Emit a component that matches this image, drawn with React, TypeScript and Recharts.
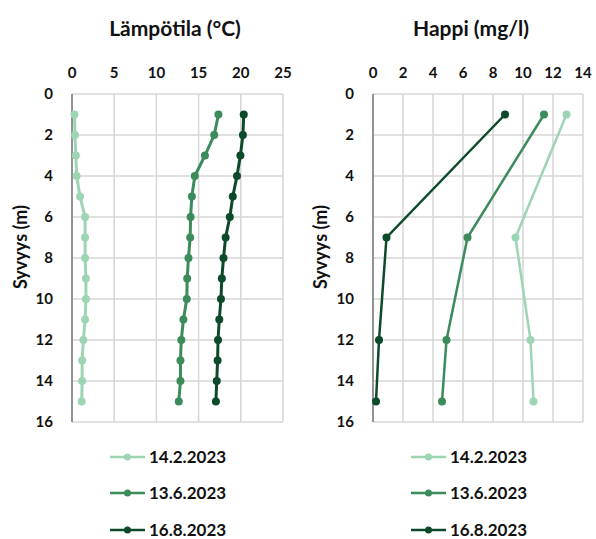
import React from 'react';
import { LineChart, Line, XAxis, YAxis, CartesianGrid } from 'recharts';

const depthsT = [1, 2, 3, 4, 5, 6, 7, 8, 9, 10, 11, 12, 13, 14, 15];
const tempFeb = [0.3, 0.35, 0.45, 0.55, 0.95, 1.55, 1.55, 1.55, 1.65, 1.65, 1.55, 1.35, 1.2, 1.2, 1.15];
const tempJun = [17.35, 16.85, 15.75, 14.55, 14.2, 14.05, 14.0, 13.8, 13.65, 13.6, 13.2, 12.95, 12.85, 12.85, 12.65];
const tempAug = [20.35, 20.25, 19.95, 19.55, 19.05, 18.7, 18.2, 17.95, 17.75, 17.65, 17.45, 17.3, 17.25, 17.15, 17.05];

const depthsO = [1, 7, 12, 15];
const oxyFeb = [12.9, 9.5, 10.5, 10.7];
const oxyJun = [11.4, 6.3, 4.9, 4.6];
const oxyAug = [8.8, 0.9, 0.4, 0.2];

const seriesNames = ['14.2.2023', '13.6.2023', '16.8.2023'];
const seriesColors = ['#9dd5b3', '#3b8b5b', '#0c4a2a'];

const tempTicks = [0, 5, 10, 15, 20, 25];
const oxyTicks = [0, 2, 4, 6, 8, 10, 12, 14];
const depthTicks = [0, 2, 4, 6, 8, 10, 12, 14, 16];

const tempData = depthsT.map((d, i) => ({ depth: d, s0: tempFeb[i], s1: tempJun[i], s2: tempAug[i] }));
const oxyData = depthsO.map((d, i) => ({ depth: d, s0: oxyFeb[i], s1: oxyJun[i], s2: oxyAug[i] }));

const FONT = 'Lato, "Open Sans", sans-serif';
const tickStyle = { fontFamily: FONT, fontSize: 15, fontWeight: 700, fill: '#111' };

function Panel(props: {
  data: any[];
  ticks: number[];
  domain: [number, number];
  yWidth: number;
  width: number;
  rightMargin: number;
  strokeW: number;
}) {
  const { data, ticks, domain, yWidth, width, rightMargin, strokeW } = props;
  return (
    <LineChart
      width={width}
      height={440}
      data={data}
      layout="vertical"
      margin={{ top: 64, right: rightMargin, bottom: 18, left: 0 }}
    >
      <CartesianGrid stroke="#d6d6d6" strokeWidth={1.5} />
      <XAxis
        type="number"
        orientation="top"
        domain={domain}
        ticks={ticks}
        interval={0}
        height={30}
        axisLine={false}
        tickLine={false}
        tickSize={0}
        tickMargin={16}
        tick={tickStyle}
      />
      <YAxis
        type="number"
        dataKey="depth"
        domain={[0, 16]}
        ticks={depthTicks}
        interval={0}
        width={yWidth}
        axisLine={{ stroke: '#7a7a7a', strokeWidth: 1.5 }}
        tickLine={false}
        tickSize={0}
        tickMargin={19}
        tick={tickStyle}
      />
      {['s0', 's1', 's2'].map((k, i) => (
        <Line
          key={k}
          dataKey={k}
          stroke={seriesColors[i]}
          strokeWidth={strokeW}
          dot={{ r: 4, fill: seriesColors[i], stroke: seriesColors[i], strokeWidth: 0 }}
          isAnimationActive={false}
        />
      ))}
    </LineChart>
  );
}

function LegendBlock(props: { left: number; textLeft: number }) {
  const rows = [457, 493, 530];
  return (
    <>
      {seriesNames.map((n, i) => (
        <div key={n} style={{ position: 'absolute', left: props.left, top: rows[i] - 10, height: 20, display: 'flex', alignItems: 'center' }}>
          <svg width={36} height={20}>
            <line x1={0} y1={10} x2={35} y2={10} stroke={seriesColors[i]} strokeWidth={2.5} />
            <circle cx={17.5} cy={10} r={3.5} fill={seriesColors[i]} />
          </svg>
          <span style={{ position: 'absolute', left: props.textLeft - props.left, fontFamily: FONT, fontWeight: 700, fontSize: 17, color: '#111', whiteSpace: 'nowrap', lineHeight: '20px' }}>{n}</span>
        </div>
      ))}
    </>
  );
}

const titleStyle: React.CSSProperties = {
  position: 'absolute',
  fontFamily: FONT,
  fontWeight: 700,
  fontSize: 21,
  color: '#111',
  whiteSpace: 'nowrap',
  transform: 'translate(-50%, -50%)',
};

const ylabelStyle: React.CSSProperties = {
  position: 'absolute',
  fontFamily: FONT,
  fontWeight: 700,
  fontSize: 18,
  color: '#111',
  whiteSpace: 'nowrap',
  transform: 'translate(-50%, -50%) rotate(-90deg)',
};

export default function App() {
  return (
    <div style={{ position: 'absolute', left: 0, top: 0, width: 596, height: 539, background: '#fff', overflow: 'hidden' }}>
      <div style={{ position: 'absolute', left: 0, top: 0 }}>
        <Panel data={tempData} ticks={tempTicks} domain={[0, 25]} yWidth={72} width={300} rightMargin={17} strokeW={3} />
      </div>
      <div style={{ position: 'absolute', left: 300, top: 0 }}>
        <Panel data={oxyData} ticks={oxyTicks} domain={[0, 14]} yWidth={73} width={296} rightMargin={13} strokeW={2.5} />
      </div>
      <div style={{ ...titleStyle, left: 175, top: 27 }}>Lämpötila (°C)</div>
      <div style={{ ...titleStyle, left: 471, top: 27 }}>Happi (mg/l)</div>
      <div style={{ ...ylabelStyle, left: 20, top: 247 }}>Syvyys (m)</div>
      <div style={{ ...ylabelStyle, left: 320, top: 247 }}>Syvyys (m)</div>
      <LegendBlock left={110} textLeft={149} />
      <LegendBlock left={411} textLeft={450} />
    </div>
  );
}
